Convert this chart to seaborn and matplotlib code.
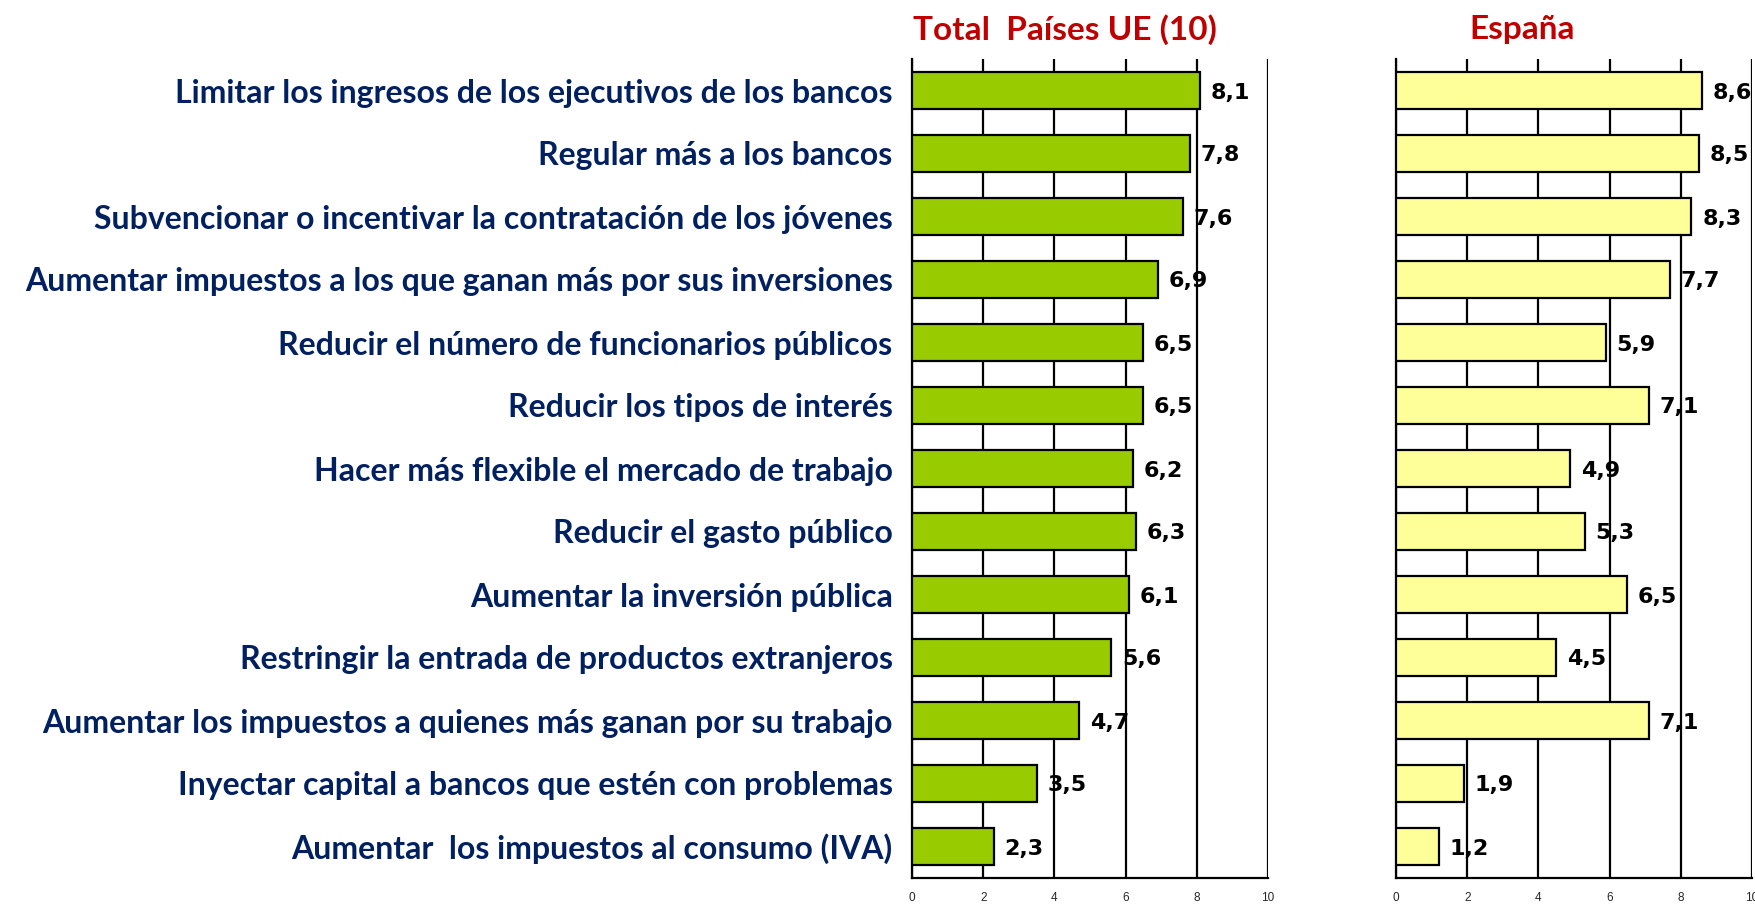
import matplotlib
matplotlib.use("Agg")
import matplotlib.pyplot as plt
import seaborn as sns
import pandas as pd

medidas = [
    "Limitar los ingresos de los ejecutivos de los bancos",
    "Regular más a los bancos",
    "Subvencionar o incentivar la contratación de los jóvenes",
    "Aumentar impuestos a los que ganan más por sus inversiones",
    "Reducir el número de funcionarios públicos",
    "Reducir los tipos de interés",
    "Hacer más flexible el mercado de trabajo",
    "Reducir el gasto público",
    "Aumentar la inversión pública",
    "Restringir la entrada de productos extranjeros",
    "Aumentar los impuestos a quienes más ganan por su trabajo",
    "Inyectar capital a bancos que estén con problemas",
    "Aumentar  los impuestos al consumo (IVA)",
]
total_ue = [8.1, 7.8, 7.6, 6.9, 6.5, 6.5, 6.2, 6.3, 6.1, 5.6, 4.7, 3.5, 2.3]
espana = [8.6, 8.5, 8.3, 7.7, 5.9, 7.1, 4.9, 5.3, 6.5, 4.5, 7.1, 1.9, 1.2]
ticks = [0, 2, 4, 6, 8, 10]
titulos = ["Total  Países UE (10)", "España"]

sns.set_style("white")
plt.rcParams["font.family"] = ["DejaVu Sans"]

W, H = 1755, 906
fig = plt.figure(figsize=(W / 100, H / 100), dpi=100)

bottom = 1 - 878 / H
top = 1 - 59 / H
ax1 = fig.add_axes([912 / W, bottom, 356 / W, top - bottom])
ax2 = fig.add_axes([1396 / W, bottom, 356 / W, top - bottom])

df = pd.DataFrame({"medida": medidas, "ue": total_ue, "es": espana})

panels = [
    (ax1, "ue", "#99CC00", titulos[0], 1065),
    (ax2, "es", "#FFFF99", titulos[1], 1522),
]

for ax, col, color, titulo, tx in panels:
    sns.barplot(data=df, x=col, y="medida", orient="h", ax=ax, color=color,
                edgecolor="black", linewidth=1.6, width=0.6, saturation=1,
                zorder=3)
    ax.set_xlim(0, 10)
    ax.set_ylim(len(medidas) - 0.5, -0.5)
    ax.set_xticks(ticks)
    ax.set_xticklabels([str(t) for t in ticks], fontsize=8.5,
                       family="Liberation Sans")
    ax.grid(axis="x", color="black", linewidth=1.6, zorder=0)
    ax.grid(axis="y", visible=False)
    ax.set_axisbelow(True)
    for s in ["top", "right"]:
        ax.spines[s].set_visible(False)
    ax.spines["left"].set_color("black")
    ax.spines["left"].set_linewidth(1.6)
    ax.spines["bottom"].set_color("black")
    ax.spines["bottom"].set_linewidth(1.6)
    ax.tick_params(axis="x", direction="out", length=5, width=1.4,
                   color="black", pad=5)
    ax.tick_params(axis="y", length=0)
    ax.set_xlabel("")
    ax.set_ylabel("")
    for i, v in enumerate(df[col]):
        ax.text(v + 0.3, i, f"{v:.1f}".replace(".", ","),
                va="center_baseline", ha="left", fontsize=16,
                fontweight="bold", color="black", zorder=5)
    fig.text(tx / W, 1 - 30 / H, titulo, ha="center", va="center",
             fontsize=24, fontweight="bold", color="#C00000",
             family="Lato")

ax1.set_yticks(range(len(medidas)))
ax1.set_yticklabels(medidas, fontsize=23, fontweight="bold",
                    color="#002060", family="Lato")
ax1.tick_params(axis="y", pad=14)
ax2.set_yticks(range(len(medidas)))
ax2.set_yticklabels([])

fig.savefig("out.png", dpi=100)
